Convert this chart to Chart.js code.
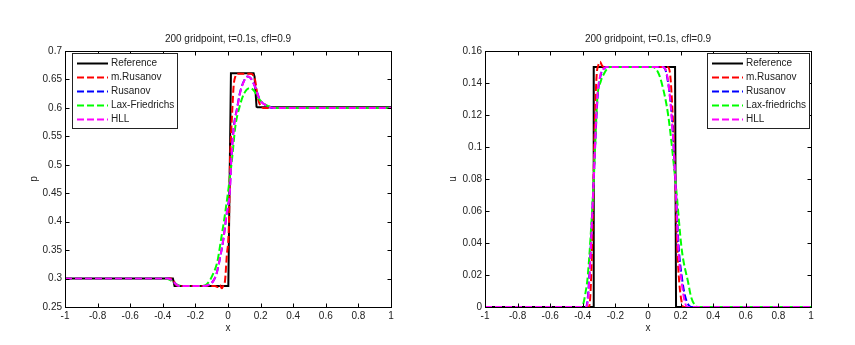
<!DOCTYPE html>
<html><head><meta charset="utf-8">
<script src="https://cdn.jsdelivr.net/npm/chart.js@4.4.1/dist/chart.umd.min.js"></script>
<style>
html,body{margin:0;padding:0;background:#fff;}
#wrap{position:relative;width:855px;height:345px;overflow:hidden;background:#fff;}
canvas{position:absolute;top:0;}
#c1{left:0;} #c2{left:430px;}
</style></head><body>
<div id="wrap"><canvas id="c1" width="430" height="345"></canvas><canvas id="c2" width="425" height="345"></canvas></div>
<script>
// ---------- labels ----------
const titleText = '200 gridpoint, t=0.1s, cfl=0.9';
const leftLegend = ['Reference', 'm.Rusanov', 'Rusanov', 'Lax-Friedrichs', 'HLL'];
const rightLegend = ['Reference', 'm.Rusanov', 'Rusanov', 'Lax-friedrichs', 'HLL'];
const seriesColors = ['#000000', '#ff0000', '#0000ff', '#00ff00', '#ff00ff'];

// ---------- ticks ----------
const xTicks = [-1, -0.8, -0.6, -0.4, -0.2, 0, 0.2, 0.4, 0.6, 0.8, 1];
const xTickLabels = ['-1', '-0.8', '-0.6', '-0.4', '-0.2', '0', '0.2', '0.4', '0.6', '0.8', '1'];
const pTicks = [0.25, 0.3, 0.35, 0.4, 0.45, 0.5, 0.55, 0.6, 0.65, 0.7];
const pTickLabels = ['0.25', '0.3', '0.35', '0.4', '0.45', '0.5', '0.55', '0.6', '0.65', '0.7'];
const uTicks = [0, 0.02, 0.04, 0.06, 0.08, 0.1, 0.12, 0.14, 0.16];
const uTickLabels = ['0', '0.02', '0.04', '0.06', '0.08', '0.1', '0.12', '0.14', '0.16'];

// ---------- left panel: p ----------
const pRefX = [-1, -0.338, -0.328, 0.002, 0.018, 0.157, 0.163, 0.175, 0.18, 1];
const pRefY = [0.3, 0.3, 0.287, 0.287, 0.661, 0.661, 0.655, 0.602, 0.601, 0.601];

const pMRusX = [-1, -0.35, -0.335, -0.32, -0.30, -0.08, -0.065, -0.05, -0.038, -0.028, -0.018, -0.008, 0.006, 0.012, 0.02, 0.027, 0.035, 0.045, 0.06, 0.14, 0.155, 0.166, 0.186, 0.2, 0.215, 1];
const pMRusY = [0.3, 0.3, 0.297, 0.289, 0.287, 0.287, 0.285, 0.289, 0.283, 0.288, 0.297, 0.338, 0.398, 0.5, 0.56, 0.6, 0.64, 0.655, 0.66, 0.66, 0.657, 0.649, 0.614, 0.604, 0.6, 0.6];

const pRusX = [-1, -0.37, -0.35, -0.33, -0.31, -0.29, -0.15, -0.12, -0.09, -0.07, -0.05, -0.029, -0.01, 0.011, 0.02, 0.036, 0.056, 0.073, 0.094, 0.12, 0.14, 0.166, 0.196, 0.237, 0.28, 1];
const pRusY = [0.3, 0.3, 0.298, 0.293, 0.288, 0.287, 0.287, 0.289, 0.296, 0.309, 0.335, 0.368, 0.41, 0.456, 0.508, 0.567, 0.6, 0.626, 0.645, 0.655, 0.652, 0.637, 0.614, 0.604, 0.6, 0.6];

const pLfX = [-1, -0.39, -0.36, -0.335, -0.31, -0.28, -0.165, -0.13, -0.09, -0.065, -0.043, -0.02, 0.002, 0.024, 0.045, 0.069, 0.1, 0.135, 0.16, 0.19, 0.22, 0.25, 0.29, 1];
const pLfY = [0.3, 0.3, 0.298, 0.294, 0.289, 0.287, 0.287, 0.29, 0.309, 0.33, 0.368, 0.41, 0.456, 0.508, 0.567, 0.6, 0.626, 0.635, 0.63, 0.616, 0.607, 0.603, 0.6, 0.6];

const pHllX = [-1, -0.37, -0.35, -0.33, -0.31, -0.29, -0.15, -0.12, -0.09, -0.07, -0.05, -0.029, -0.01, 0.012, 0.02, 0.037, 0.057, 0.074, 0.095, 0.12, 0.14, 0.166, 0.196, 0.237, 0.28, 1];
const pHllY = [0.3, 0.3, 0.298, 0.293, 0.288, 0.287, 0.287, 0.289, 0.296, 0.309, 0.335, 0.368, 0.41, 0.456, 0.508, 0.567, 0.6, 0.626, 0.645, 0.655, 0.652, 0.637, 0.614, 0.604, 0.6, 0.6];

// ---------- right panel: u ----------
const uRefX = [-1, -0.337, -0.333, 0.166, 0.172, 1];
const uRefY = [0, 0, 0.15, 0.15, 0, 0];

const uMRusX = [-1, -0.365, -0.355, -0.345, -0.335, -0.325, -0.315, -0.305, -0.294, -0.283, -0.27, 0.12, 0.135, 0.152, 0.168, 0.18, 0.192, 0.205, 0.215, 1];
const uMRusY = [0, 0, 0.005, 0.03, 0.075, 0.12, 0.145, 0.151, 0.1533, 0.151, 0.15, 0.15, 0.146, 0.119, 0.077, 0.036, 0.015, 0.004, 0, 0];

const uRusX = [-1, -0.38, -0.37, -0.36, -0.335, -0.31, -0.29, -0.27, -0.25, 0.09, 0.113, 0.145, 0.169, 0.188, 0.21, 0.227, 0.25, 0.265, 1];
const uRusY = [0, 0, 0.005, 0.02, 0.075, 0.13, 0.145, 0.149, 0.15, 0.15, 0.146, 0.12, 0.077, 0.038, 0.017, 0.007, 0.001, 0, 0];

const uLfX = [-1, -0.41, -0.397, -0.385, -0.369, -0.335, -0.311, -0.29, -0.274, -0.25, -0.233, 0.03, 0.06, 0.084, 0.125, 0.17, 0.207, 0.247, 0.265, 0.29, 0.31, 1];
const uLfY = [0, 0, 0.002, 0.008, 0.02, 0.075, 0.13, 0.141, 0.145, 0.149, 0.15, 0.15, 0.147, 0.14, 0.119, 0.077, 0.036, 0.015, 0.006, 0.001, 0, 0];

const uHllX = [-1, -0.378, -0.368, -0.358, -0.335, -0.312, -0.292, -0.272, -0.255, 0.09, 0.115, 0.145, 0.169, 0.186, 0.207, 0.222, 0.24, 1];
const uHllY = [0, 0, 0.005, 0.02, 0.075, 0.13, 0.145, 0.149, 0.15, 0.15, 0.146, 0.119, 0.077, 0.036, 0.015, 0.005, 0, 0];

// ---------- rendering ----------
Chart.defaults.font.family = "'Liberation Sans', Arial, Helvetica, sans-serif";
Chart.defaults.font.size = 10;
Chart.defaults.color = '#222';

function makeDs(label, xs, ys, idx) {
  const dashed = idx > 0;
  return {
    label: label,
    data: xs.map((x, i) => ({x: x, y: ys[i]})),
    borderColor: seriesColors[idx],
    backgroundColor: seriesColors[idx],
    borderWidth: 2,
    borderDash: dashed ? [7, 3] : [],
    pointRadius: 0,
    fill: false,
    tension: 0,
    cubicInterpolationMode: dashed ? 'monotone' : 'default',
    order: 4 - idx,
    clip: 3
  };
}

const framePlugin = {
  id: 'frameTicks',
  afterDatasetsDraw(chart) {
    const {ctx, chartArea: a} = chart;
    const x = chart.scales.x, y = chart.scales.y;
    const L = Math.round(a.left) + 0.5, R = Math.round(a.right) + 0.5;
    const T = Math.round(a.top) + 0.5, B = Math.round(a.bottom) + 0.5;
    ctx.save();
    ctx.strokeStyle = '#000';
    ctx.lineWidth = 1;
    ctx.setLineDash([]);
    ctx.beginPath();
    x.ticks.forEach(t => {
      const px = Math.round(x.getPixelForValue(t.value)) + 0.5;
      ctx.moveTo(px, B); ctx.lineTo(px, B - 4);
      ctx.moveTo(px, T); ctx.lineTo(px, T + 4);
    });
    y.ticks.forEach(t => {
      const py = Math.round(y.getPixelForValue(t.value)) + 0.5;
      ctx.moveTo(L, py); ctx.lineTo(L + 4, py);
      ctx.moveTo(R, py); ctx.lineTo(R - 4, py);
    });
    ctx.stroke();
    ctx.strokeRect(L, T, R - L, B - T);
    ctx.restore();
  }
};

function legendPlugin(names, side, boxW) {
  return {
    id: 'boxLegend',
    afterDraw(chart) {
      const {ctx, chartArea: a} = chart;
      const left = side === 'left' ? Math.round(a.left) + 7 : Math.round(a.right) - 2 - boxW;
      const top = Math.round(a.top) + 2;
      const h = 75;
      ctx.save();
      ctx.fillStyle = '#fff';
      ctx.fillRect(left, top, boxW, h);
      ctx.strokeStyle = '#222';
      ctx.lineWidth = 1;
      ctx.setLineDash([]);
      ctx.strokeRect(left + 0.5, top + 0.5, boxW, h);
      ctx.font = "10px 'Liberation Sans', Arial, sans-serif";
      ctx.textBaseline = 'middle';
      ctx.textAlign = 'left';
      chart.data.datasets.forEach((d, i) => {
        const yy = top + 10.5 + 14 * i;
        ctx.strokeStyle = d.borderColor;
        ctx.lineWidth = 2;
        ctx.setLineDash(d.borderDash);
        ctx.beginPath();
        ctx.moveTo(left + 5, yy);
        ctx.lineTo(left + 36, yy);
        ctx.stroke();
        ctx.fillStyle = '#222';
        ctx.fillText(names[i], left + 39, yy);
      });
      ctx.restore();
    }
  };
}

function makeChart(id, datasets, yMin, yMax, yTicks, yTickLabels, yTitle, yAxisW, rightPad, yTitlePad, names, side, boxW) {
  return new Chart(document.getElementById(id), {
    type: 'line',
    data: {datasets: datasets},
    options: {
      responsive: false,
      animation: false,
      devicePixelRatio: 1,
      layout: {padding: {left: 0, right: rightPad, top: 0, bottom: 0}},
      plugins: {
        legend: {display: false},
        tooltip: {enabled: false},
        title: {display: true, text: titleText, fullSize: false, color: '#222',
                font: {size: 10, weight: 'normal'}, padding: {top: 33, bottom: 6}}
      },
      scales: {
        x: {
          type: 'linear', min: -1, max: 1,
          afterBuildTicks: s => { s.ticks = xTicks.map(v => ({value: v})); },
          afterFit: s => { s.height = 38; },
          ticks: {autoSkip: false, maxRotation: 0, padding: 3, color: '#222',
                  callback: (v, i) => xTickLabels[i]},
          grid: {display: false, drawTicks: false},
          border: {display: false},
          title: {display: true, text: 'x', color: '#222', font: {size: 10}, padding: {top: 0, bottom: 11}}
        },
        y: {
          type: 'linear', min: yMin, max: yMax,
          afterBuildTicks: s => { s.ticks = yTicks.map(v => ({value: v})); },
          afterFit: s => { s.width = yAxisW; },
          ticks: {autoSkip: false, padding: 3, color: '#222',
                  callback: (v, i) => yTickLabels[i]},
          grid: {display: false, drawTicks: false},
          border: {display: false},
          title: {display: true, text: yTitle, color: '#222', font: {size: 10}, padding: {top: yTitlePad, bottom: 0}}
        }
      }
    },
    plugins: [framePlugin, legendPlugin(names, side, boxW)]
  });
}

makeChart('c1', [
  makeDs(leftLegend[0], pRefX, pRefY, 0),
  makeDs(leftLegend[1], pMRusX, pMRusY, 1),
  makeDs(leftLegend[2], pRusX, pRusY, 2),
  makeDs(leftLegend[3], pLfX, pLfY, 3),
  makeDs(leftLegend[4], pHllX, pHllY, 4)
], 0.25, 0.7, pTicks, pTickLabels, 'p', 65, 39, 28, leftLegend, 'left', 105);

makeChart('c2', [
  makeDs(rightLegend[0], uRefX, uRefY, 0),
  makeDs(rightLegend[1], uMRusX, uMRusY, 1),
  makeDs(rightLegend[2], uRusX, uRusY, 2),
  makeDs(rightLegend[3], uLfX, uLfY, 3),
  makeDs(rightLegend[4], uHllX, uHllY, 4)
], 0, 0.16, uTicks, uTickLabels, 'u', 55, 44, 17, rightLegend, 'right', 102);
</script>
</body></html>
